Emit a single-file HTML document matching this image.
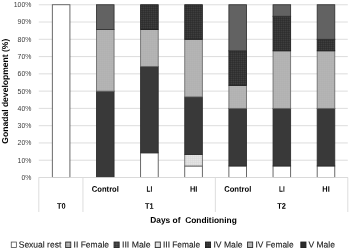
<!DOCTYPE html>
<html><head><meta charset="utf-8"><title>chart</title>
<style>
html,body{margin:0;padding:0;background:#fff;}
body{width:350px;height:250px;overflow:hidden;font-family:"Liberation Sans",sans-serif;}
svg{display:block;filter:grayscale(1);}
text{font-family:"Liberation Sans",sans-serif;text-rendering:geometricPrecision;}
</style></head><body>
<svg width="350" height="250" viewBox="0 0 350 250">
<defs>
<pattern id="pIVM" width="2" height="2" patternUnits="userSpaceOnUse"><rect width="2" height="2" fill="#3e3e3e"/><path d="M0 0H2M0 0V2" stroke="#262626" stroke-width="0.8"/></pattern>
<pattern id="pIVF" width="2" height="2" patternUnits="userSpaceOnUse"><rect width="2" height="2" fill="#b1b1b1"/><path d="M0 0H2M0 0V2" stroke="#b9b9b9" stroke-width="0.6"/></pattern>
<pattern id="pIIIF" width="2" height="2" patternUnits="userSpaceOnUse"><rect width="2" height="2" fill="#e4e4e4"/><path d="M0 0H2M0 0V2" stroke="#d2d2d2" stroke-width="0.7"/></pattern>
<pattern id="pIIF" width="2.55" height="2.75" x="0.3" y="0.1" patternUnits="userSpaceOnUse"><rect width="2.55" height="2.75" fill="#bababa"/><path d="M0 0H2.55M0 0V2.75" stroke="#7c7c7c" stroke-width="0.6"/></pattern>
<pattern id="pIIIM" width="2.5" height="2.5" patternUnits="userSpaceOnUse"><rect width="2.5" height="2.5" fill="#505050"/><path d="M0 0H2.5M0 0V2.5" stroke="#2c2c2c" stroke-width="0.8"/></pattern>
</defs>
<rect x="0" y="0" width="350" height="250" fill="#ffffff"/>
<line x1="38.8" y1="177.50" x2="347.8" y2="177.50" stroke="#d9d9d9" stroke-width="0.9"/>
<line x1="38.8" y1="160.22" x2="347.8" y2="160.22" stroke="#d9d9d9" stroke-width="0.9"/>
<line x1="38.8" y1="142.95" x2="347.8" y2="142.95" stroke="#d9d9d9" stroke-width="0.9"/>
<line x1="38.8" y1="125.68" x2="347.8" y2="125.68" stroke="#d9d9d9" stroke-width="0.9"/>
<line x1="38.8" y1="108.40" x2="347.8" y2="108.40" stroke="#d9d9d9" stroke-width="0.9"/>
<line x1="38.8" y1="91.12" x2="347.8" y2="91.12" stroke="#d9d9d9" stroke-width="0.9"/>
<line x1="38.8" y1="73.85" x2="347.8" y2="73.85" stroke="#d9d9d9" stroke-width="0.9"/>
<line x1="38.8" y1="56.58" x2="347.8" y2="56.58" stroke="#d9d9d9" stroke-width="0.9"/>
<line x1="38.8" y1="39.30" x2="347.8" y2="39.30" stroke="#d9d9d9" stroke-width="0.9"/>
<line x1="38.8" y1="22.03" x2="347.8" y2="22.03" stroke="#d9d9d9" stroke-width="0.9"/>
<line x1="38.8" y1="4.75" x2="347.8" y2="4.75" stroke="#d9d9d9" stroke-width="0.9"/>
<line x1="38.80" y1="177.5" x2="38.80" y2="212" stroke="#d9d9d9" stroke-width="0.9"/>
<line x1="82.94" y1="177.5" x2="82.94" y2="212" stroke="#d9d9d9" stroke-width="0.9"/>
<line x1="215.37" y1="177.5" x2="215.37" y2="212" stroke="#d9d9d9" stroke-width="0.9"/>
<line x1="347.80" y1="177.5" x2="347.80" y2="212" stroke="#d9d9d9" stroke-width="0.9"/>
<text x="31.4" y="180" font-size="6.9" fill="#3c3c3c" text-anchor="end" style="text-rendering:auto">0%</text>
<text x="31.4" y="163" font-size="6.9" fill="#3c3c3c" text-anchor="end" style="text-rendering:auto">10%</text>
<text x="31.4" y="145" font-size="6.9" fill="#3c3c3c" text-anchor="end" style="text-rendering:auto">20%</text>
<text x="31.4" y="128" font-size="6.9" fill="#3c3c3c" text-anchor="end" style="text-rendering:auto">30%</text>
<text x="31.4" y="111" font-size="6.9" fill="#3c3c3c" text-anchor="end" style="text-rendering:auto">40%</text>
<text x="31.4" y="94" font-size="6.9" fill="#3c3c3c" text-anchor="end" style="text-rendering:auto">50%</text>
<text x="31.4" y="76" font-size="6.9" fill="#3c3c3c" text-anchor="end" style="text-rendering:auto">60%</text>
<text x="31.4" y="59" font-size="6.9" fill="#3c3c3c" text-anchor="end" style="text-rendering:auto">70%</text>
<text x="31.4" y="42" font-size="6.9" fill="#3c3c3c" text-anchor="end" style="text-rendering:auto">80%</text>
<text x="31.4" y="24" font-size="6.9" fill="#3c3c3c" text-anchor="end" style="text-rendering:auto">90%</text>
<text x="31.4" y="7" font-size="6.9" fill="#3c3c3c" text-anchor="end" style="text-rendering:auto">100%</text>
<rect x="52.32" y="4.75" width="17.6" height="172.75" fill="#ffffff" stroke="#505050" stroke-width="0.85"/>
<rect x="96.46" y="91.12" width="17.6" height="86.38" fill="#393939" stroke="#2a2a2a" stroke-width="0.85"/>
<rect x="96.46" y="29.43" width="17.6" height="61.70" fill="url(#pIVF)" stroke="#6a6a6a" stroke-width="0.85"/>
<rect x="96.46" y="4.75" width="17.6" height="24.68" fill="#626262" stroke="#303030" stroke-width="0.85"/>
<rect x="140.61" y="152.82" width="17.6" height="24.68" fill="#ffffff" stroke="#505050" stroke-width="0.85"/>
<rect x="140.61" y="66.45" width="17.6" height="86.37" fill="#393939" stroke="#2a2a2a" stroke-width="0.85"/>
<rect x="140.61" y="29.43" width="17.6" height="37.02" fill="url(#pIVF)" stroke="#6a6a6a" stroke-width="0.85"/>
<rect x="140.61" y="4.75" width="17.6" height="24.68" fill="url(#pIVM)" stroke="#1a1a1a" stroke-width="0.85"/>
<rect x="184.75" y="165.98" width="17.6" height="11.52" fill="#ffffff" stroke="#505050" stroke-width="0.85"/>
<rect x="184.75" y="154.47" width="17.6" height="11.52" fill="url(#pIIIF)" stroke="#606060" stroke-width="0.85"/>
<rect x="184.75" y="96.88" width="17.6" height="57.58" fill="#393939" stroke="#2a2a2a" stroke-width="0.85"/>
<rect x="184.75" y="39.30" width="17.6" height="57.58" fill="url(#pIVF)" stroke="#6a6a6a" stroke-width="0.85"/>
<rect x="184.75" y="4.75" width="17.6" height="34.55" fill="url(#pIVM)" stroke="#1a1a1a" stroke-width="0.85"/>
<rect x="228.89" y="165.98" width="17.6" height="11.52" fill="#ffffff" stroke="#505050" stroke-width="0.85"/>
<rect x="228.89" y="108.40" width="17.6" height="57.58" fill="#393939" stroke="#2a2a2a" stroke-width="0.85"/>
<rect x="228.89" y="85.37" width="17.6" height="23.03" fill="url(#pIVF)" stroke="#6a6a6a" stroke-width="0.85"/>
<rect x="228.89" y="50.82" width="17.6" height="34.55" fill="url(#pIVM)" stroke="#1a1a1a" stroke-width="0.85"/>
<rect x="228.89" y="4.75" width="17.6" height="46.07" fill="#626262" stroke="#303030" stroke-width="0.85"/>
<rect x="273.04" y="165.98" width="17.6" height="11.52" fill="#ffffff" stroke="#505050" stroke-width="0.85"/>
<rect x="273.04" y="108.40" width="17.6" height="57.58" fill="#393939" stroke="#2a2a2a" stroke-width="0.85"/>
<rect x="273.04" y="50.82" width="17.6" height="57.58" fill="url(#pIVF)" stroke="#6a6a6a" stroke-width="0.85"/>
<rect x="273.04" y="16.27" width="17.6" height="34.55" fill="url(#pIVM)" stroke="#1a1a1a" stroke-width="0.85"/>
<rect x="273.04" y="4.75" width="17.6" height="11.52" fill="#626262" stroke="#303030" stroke-width="0.85"/>
<rect x="317.18" y="165.98" width="17.6" height="11.52" fill="#ffffff" stroke="#505050" stroke-width="0.85"/>
<rect x="317.18" y="108.40" width="17.6" height="57.58" fill="#393939" stroke="#2a2a2a" stroke-width="0.85"/>
<rect x="317.18" y="50.82" width="17.6" height="57.58" fill="url(#pIVF)" stroke="#6a6a6a" stroke-width="0.85"/>
<rect x="317.18" y="39.30" width="17.6" height="11.52" fill="url(#pIVM)" stroke="#1a1a1a" stroke-width="0.85"/>
<rect x="317.18" y="4.75" width="17.6" height="34.55" fill="#626262" stroke="#303030" stroke-width="0.85"/>
<line x1="38.8" y1="177.5" x2="347.8" y2="177.5" stroke="#d9d9d9" stroke-width="0.9"/>
<text transform="translate(91.71,191.80) rotate(0.05)" font-size="8.1" font-weight="bold" fill="#000" textLength="27.2" lengthAdjust="spacingAndGlyphs" style="white-space:pre">Control</text>
<text transform="translate(146.61,191.80) rotate(0.05)" font-size="8.1" font-weight="bold" fill="#000" textLength="5.7" lengthAdjust="spacingAndGlyphs" style="white-space:pre">LI</text>
<text transform="translate(189.90,191.80) rotate(0.05)" font-size="8.1" font-weight="bold" fill="#000" textLength="7.4" lengthAdjust="spacingAndGlyphs" style="white-space:pre">HI</text>
<text transform="translate(224.14,191.80) rotate(0.05)" font-size="8.1" font-weight="bold" fill="#000" textLength="27.2" lengthAdjust="spacingAndGlyphs" style="white-space:pre">Control</text>
<text transform="translate(279.04,191.80) rotate(0.05)" font-size="8.1" font-weight="bold" fill="#000" textLength="5.7" lengthAdjust="spacingAndGlyphs" style="white-space:pre">LI</text>
<text transform="translate(322.33,191.80) rotate(0.05)" font-size="8.1" font-weight="bold" fill="#000" textLength="7.4" lengthAdjust="spacingAndGlyphs" style="white-space:pre">HI</text>
<text transform="translate(57.00,208.80) rotate(0.05)" font-size="8.1" font-weight="bold" fill="#000" textLength="8.6" lengthAdjust="spacingAndGlyphs" style="white-space:pre">T0</text>
<text transform="translate(145.00,208.80) rotate(0.05)" font-size="8.1" font-weight="bold" fill="#000" textLength="8.6" lengthAdjust="spacingAndGlyphs" style="white-space:pre">T1</text>
<text transform="translate(277.30,208.80) rotate(0.05)" font-size="8.1" font-weight="bold" fill="#000" textLength="8.6" lengthAdjust="spacingAndGlyphs" style="white-space:pre">T2</text>
<text transform="translate(193.50,222.90) rotate(0.05)" font-size="8.4" font-weight="bold" fill="#000" text-anchor="middle" style="white-space:pre">Days of  Conditioning</text>
<text transform="translate(8.4,91.2) rotate(-90)" font-size="8.55" font-weight="bold" fill="#000" text-anchor="middle">Gonadal development (%)</text>
<rect x="11.25" y="242.05" width="5.1" height="5.5" fill="#ffffff" stroke="#444" stroke-width="0.75"/>
<text transform="translate(18.70,247.50) rotate(0.05)" font-size="8.7" fill="#1c1c1c" textLength="42.6" lengthAdjust="spacingAndGlyphs" stroke="#1c1c1c" stroke-width="0.12" style="white-space:pre">Sexual rest</text>
<rect x="65.65" y="242.05" width="5.1" height="5.5" fill="url(#pIIF)" stroke="#2e2e2e" stroke-width="0.9"/>
<text transform="translate(73.60,247.50) rotate(0.05)" font-size="8.7" fill="#1c1c1c" textLength="35.4" lengthAdjust="spacingAndGlyphs" stroke="#1c1c1c" stroke-width="0.12" style="white-space:pre">II Female</text>
<rect x="114.05" y="242.05" width="5.1" height="5.5" fill="url(#pIIIM)" stroke="#262626" stroke-width="0.9"/>
<text transform="translate(122.00,247.50) rotate(0.05)" font-size="8.7" fill="#1c1c1c" textLength="28.6" lengthAdjust="spacingAndGlyphs" stroke="#1c1c1c" stroke-width="0.12" style="white-space:pre">III Male</text>
<rect x="155.25" y="242.05" width="5.1" height="5.5" fill="url(#pIIIF)" stroke="#303030" stroke-width="0.9"/>
<text transform="translate(163.00,247.50) rotate(0.05)" font-size="8.7" fill="#1c1c1c" textLength="37.1" lengthAdjust="spacingAndGlyphs" stroke="#1c1c1c" stroke-width="0.12" style="white-space:pre">III Female</text>
<rect x="205.45" y="242.05" width="5.1" height="5.5" fill="url(#pIVM)" stroke="#1c1c1c" stroke-width="0.9"/>
<text transform="translate(213.40,247.50) rotate(0.05)" font-size="8.7" fill="#1c1c1c" textLength="29.2" lengthAdjust="spacingAndGlyphs" stroke="#1c1c1c" stroke-width="0.12" style="white-space:pre">IV Male</text>
<rect x="247.55" y="242.05" width="5.1" height="5.5" fill="url(#pIVF)" stroke="#303030" stroke-width="0.9"/>
<text transform="translate(255.40,247.50) rotate(0.05)" font-size="8.7" fill="#1c1c1c" textLength="38.2" lengthAdjust="spacingAndGlyphs" stroke="#1c1c1c" stroke-width="0.12" style="white-space:pre">IV Female</text>
<rect x="300.85" y="242.05" width="5.1" height="5.5" fill="#2c2c2c" stroke="#1c1c1c" stroke-width="0.9"/>
<text transform="translate(308.40,247.50) rotate(0.05)" font-size="8.7" fill="#1c1c1c" textLength="26.6" lengthAdjust="spacingAndGlyphs" stroke="#1c1c1c" stroke-width="0.12" style="white-space:pre">V Male</text>
</svg>
</body></html>
